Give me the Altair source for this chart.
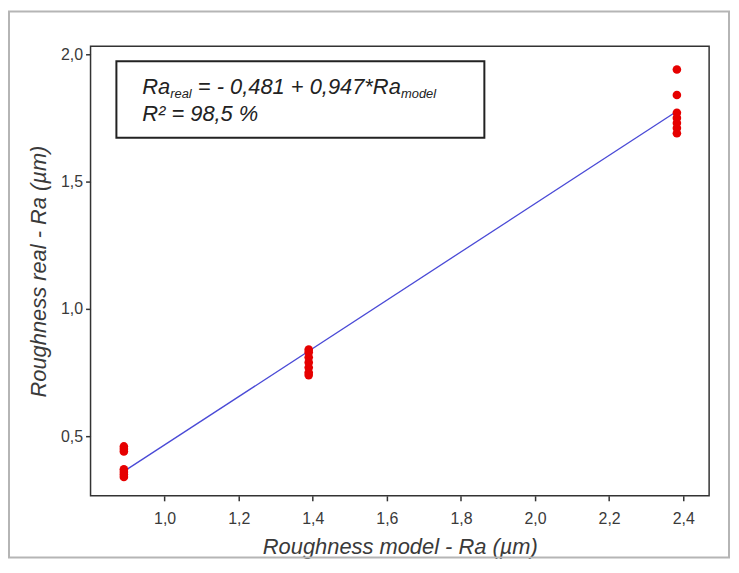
import altair as alt
import pandas as pd

# ---- data ----
model_left = 0.89
model_mid = 1.389
model_right = 2.383
real_left = [0.46, 0.45, 0.44, 0.37, 0.36, 0.35, 0.34]
real_mid = [0.84, 0.83, 0.81, 0.79, 0.77, 0.75, 0.74]
real_right = [1.94, 1.84, 1.77, 1.75, 1.73, 1.71, 1.69]

fit_x = [0.89, 2.383]
fit_y = [0.362, 1.776]

x_ticks = [1.0, 1.2, 1.4, 1.6, 1.8, 2.0, 2.2, 2.4]
y_ticks = [0.5, 1.0, 1.5, 2.0]

pts = pd.DataFrame({
    "model": [model_left] * len(real_left) + [model_mid] * len(real_mid) + [model_right] * len(real_right),
    "real": real_left + real_mid + real_right,
})
fit = pd.DataFrame({"model": fit_x, "real": fit_y})

W, H = 622, 452
FONT = "Liberation Sans"

xs = alt.Scale(domain=[0.80, 2.47], nice=False, zero=False)
ys = alt.Scale(domain=[0.266, 2.031], nice=False, zero=False)
lab = "replace(format(datum.value, '.1f'), '.', ',')"

xax = alt.Axis(values=x_ticks, labelExpr=lab, title="Roughness model - Ra (µm)",
               grid=False, domain=False, tickColor="#333", tickSize=5, tickWidth=1.5,
               labelFont=FONT, labelFontSize=16, labelColor="#3a3a3a", labelPadding=10,
               titleFont=FONT, titleFontSize=22, titleFontStyle="italic",
               titleFontWeight="normal", titleColor="#3a3a3a", titlePadding=10)
yax = alt.Axis(values=y_ticks, labelExpr=lab, title="Roughness real - Ra (µm)",
               grid=False, domain=False, tickColor="#333", tickSize=5, tickWidth=1.5,
               labelFont=FONT, labelFontSize=16, labelColor="#3a3a3a", labelPadding=3,
               titleFont=FONT, titleFontSize=22, titleFontStyle="italic",
               titleFontWeight="normal", titleColor="#3a3a3a", titlePadding=10)

line = alt.Chart(fit).mark_line(color="#4a4ad6", strokeWidth=1.3).encode(
    x=alt.X("model:Q", scale=xs, axis=xax),
    y=alt.Y("real:Q", scale=ys, axis=yax),
)
points = alt.Chart(pts).mark_circle(color="#e60000", opacity=1, size=75).encode(
    x=alt.X("model:Q", scale=xs),
    y=alt.Y("real:Q", scale=ys),
)

# annotation box
box = alt.Chart(pd.DataFrame({"a": [0]})).mark_rect(
    fill="white", stroke="#222", strokeWidth=2
).encode(x=alt.value(26), x2=alt.value(396), y=alt.value(15), y2=alt.value(92))

# widths (Arial metrics, per em)
wd = {"R": .722, "a": .556, "r": .333, "e": .556, "l": .222, " ": .278, "=": .584,
      "-": .333, "0": .556, "1": .556, "4": .556, "7": .556, "8": .556, "9": .556,
      ",": .278, "+": .584, "*": .389, "m": .833, "o": .556, "d": .556}

def tw(s, f):
    return sum(wd.get(c, .556) for c in s) * f

F, FS = 22, 13
segs = [("Ra", F, 0, 0.0), ("real", FS, 4, 0.0), ("= - 0,481 + 0,947*Ra", F, 0, 0.278), ("model", FS, 4, 0.0)]
texts = []
x0 = 52
for s, f, dy, gap in segs:
    x0 += gap * F
    texts.append(alt.Chart(pd.DataFrame({"t": [s]})).mark_text(
        align="left", baseline="alphabetic", font=FONT, fontStyle="italic",
        fontSize=f, color="#222"
    ).encode(text="t:N", x=alt.value(x0), y=alt.value(48 + dy)))
    x0 += tw(s, f)

texts.append(alt.Chart(pd.DataFrame({"t": ["R² = 98,5 %"]})).mark_text(
    align="left", baseline="alphabetic", font=FONT, fontStyle="italic",
    fontSize=F, color="#222"
).encode(text="t:N", x=alt.value(52), y=alt.value(75)))

outer = alt.Chart(pd.DataFrame({"a": [0]})).mark_rect(
    fill=None, stroke="#b5b5b5", strokeWidth=2
).encode(x=alt.value(-82), x2=alt.value(642), y=alt.value(-35), y2=alt.value(514))

chart = alt.layer(outer, line, points, box, *texts).properties(
    width=W, height=H,
    autosize=alt.AutoSizeParams(type="none"),
    padding={"left": 83, "top": 37, "right": 22, "bottom": 67},
    background="white",
).configure_view(stroke="#333", strokeWidth=1.5)

chart.save("out.html", embed_options={"renderer": "svg", "actions": False})
